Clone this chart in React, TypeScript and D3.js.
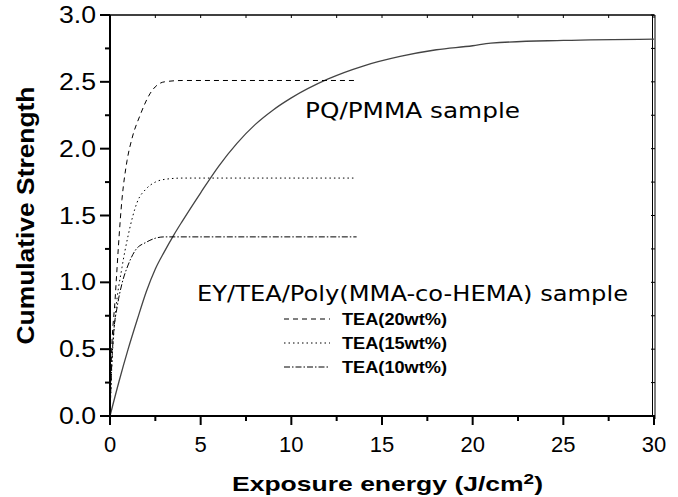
import React from 'react'
import * as d3 from 'd3'

// PQ/PMMA sample (solid)
const pqX = [0, 0.5, 1, 1.5, 2, 2.5, 3, 3.5, 4, 5, 6, 7, 8, 9, 10, 12, 14, 16, 18, 20, 21, 25, 30]
const pqY = [0, 0.26, 0.5, 0.72, 0.93, 1.1, 1.23, 1.35, 1.46, 1.67, 1.87, 2.04, 2.18, 2.29, 2.38, 2.52, 2.62, 2.69, 2.74, 2.77, 2.79, 2.81, 2.82]

// EY/TEA samples
const tea20X = [0, 0.06, 0.28, 0.66, 0.94, 1.2, 1.66, 2.2, 3, 4, 13.5]
const tea20Y = [0, 0.37, 0.87, 1.62, 1.91, 2.07, 2.25, 2.41, 2.5, 2.51, 2.51]
const tea15X = [0, 0.1, 0.3, 0.66, 1, 1.5, 2, 2.5, 3, 4, 13.5]
const tea15Y = [0, 0.37, 0.76, 1.11, 1.35, 1.6, 1.7, 1.75, 1.77, 1.78, 1.78]
const tea10X = [0, 0.1, 0.2, 0.4, 0.66, 1, 1.4, 2, 2.5, 3, 13.6]
const tea10Y = [0, 0.4, 0.62, 0.82, 0.99, 1.13, 1.24, 1.3, 1.33, 1.34, 1.34]

const legendNames = ['TEA(20wt%)', 'TEA(15wt%)', 'TEA(10wt%)']
const dashes = ['5,4', '1.5,3', '6,2,1.5,2']

const xTicks = [0, 5, 10, 15, 20, 25, 30]
const yTicks = [0, 0.5, 1.0, 1.5, 2.0, 2.5, 3.0]

const margin = { left: 110, right: 24, top: 15, bottom: 81 }
const W = 678
const H = 497

export default function App() {
  const pw = W - margin.left - margin.right
  const ph = H - margin.top - margin.bottom
  const x = d3.scaleLinear().domain([0, 30]).range([margin.left, margin.left + pw])
  const y = d3.scaleLinear().domain([0, 3]).range([margin.top + ph, margin.top])

  const mk = (xs: number[], ys: number[]) =>
    d3.line<number>().x((d, i) => x(xs[i])).y(d => y(d)).curve(d3.curveMonotoneX)(ys) || ''

  const teaSeries = [[tea20X, tea20Y], [tea15X, tea15Y], [tea10X, tea10Y]]
  const minorX = d3.range(0, 30.01, 2.5)
  const minorY = d3.range(0, 3.01, 0.25)
  const font = 'Liberation Sans, Arial, sans-serif'

  return (
    <svg width={W} height={H} style={{ position: 'absolute', left: 0, top: 0, background: '#fff' }}>
      <rect x={0} y={0} width={W} height={H} fill="#fff" />
      {/* box */}
      <line x1={x(0)} x2={x(30)} y1={y(3)} y2={y(3)} stroke="#000" strokeWidth={1.5} />
      <line x1={x(30) - 1.5} x2={x(30) - 1.5} y1={y(3)} y2={y(0)} stroke="#000" strokeWidth={1} />
      <line x1={x(30) + 1} x2={x(30) + 1} y1={y(3)} y2={y(0) + 3} stroke="#000" strokeWidth={1} />
      {minorX.map(v => (
        <line key={'tx' + v} x1={x(v)} x2={x(v)} y1={y(3)} y2={y(3) + 3} stroke="#000" />
      ))}
      {minorY.map(v => (
        <line key={'ry' + v} x1={x(30) + 1} x2={x(30) - 3} y1={y(v)} y2={y(v)} stroke="#000" />
      ))}

      {/* left axis */}
      <line x1={x(0)} x2={x(0)} y1={y(3)} y2={y(0) + 8} stroke="#000" strokeWidth={2} />
      {minorY.map(v => (
        <line key={'ly' + v} x1={x(0)} x2={x(0) - (yTicks.includes(v) ? 10 : 5)} y1={y(v)} y2={y(v)} stroke="#000" strokeWidth={2} />
      ))}
      {yTicks.map(v => (
        <text key={'yl' + v} x={x(0) - 51} y={y(v) + 8} fontFamily={font} fontSize={23}
          textLength={37} lengthAdjust="spacingAndGlyphs">
          {v.toFixed(1)}
        </text>
      ))}

      {/* bottom axis */}
      <line x1={x(0) - 10} x2={x(30) + 1} y1={y(0)} y2={y(0)} stroke="#000" strokeWidth={2} />
      {minorX.map(v => (
        <line key={'bx' + v} x1={x(v)} x2={x(v)} y1={y(0)} y2={y(0) + (xTicks.includes(v) ? 9 : 5)} stroke="#000" strokeWidth={2} />
      ))}
      {xTicks.map(v => (
        <text key={'xl' + v} x={x(v)} y={452} textAnchor="middle" fontFamily={font} fontSize={22}>
          {v}
        </text>
      ))}

      {/* axis titles */}
      <text x={232} y={491} fontFamily={font} fontSize={21} fontWeight="bold" textLength={311} lengthAdjust="spacingAndGlyphs">
        Exposure energy (J/cm<tspan fontSize={15} dy={-7}>2</tspan><tspan dy={7}>)</tspan>
      </text>
      <text transform={`translate(34,${(y(0) + y(3)) / 2}) rotate(-90)`} textAnchor="middle" fontFamily={font} fontSize={24} fontWeight="bold"
        textLength={258} lengthAdjust="spacingAndGlyphs">
        Cumulative Strength
      </text>

      {/* curves */}
      <path d={mk(pqX, pqY)} fill="none" stroke="#444" strokeWidth={1.3} />
      {teaSeries.map((s, i) => (
        <path key={'c' + i} d={mk(s[0], s[1])} fill="none" stroke="#000" strokeWidth={1} strokeDasharray={dashes[i]} />
      ))}

      {/* annotations */}
      <text x={305} y={118} fontFamily="DejaVu Sans, Verdana, sans-serif" fontSize={22} textLength={215} lengthAdjust="spacingAndGlyphs">
        PQ/PMMA sample
      </text>
      <text x={197} y={301} fontFamily="DejaVu Sans, Verdana, sans-serif" fontSize={22} textLength={431} lengthAdjust="spacingAndGlyphs">
        EY/TEA/Poly(MMA-co-HEMA) sample
      </text>

      {/* legend */}
      {legendNames.map((n, i) => (
        <g key={n}>
          <line x1={284} x2={330} y1={319 + i * 24} y2={319 + i * 24} stroke="#000" strokeWidth={1} strokeDasharray={dashes[i]} />
          <text x={342} y={325 + i * 24} fontFamily={font} fontSize={17} fontWeight="bold" textLength={105} lengthAdjust="spacingAndGlyphs">
            {n}
          </text>
        </g>
      ))}
    </svg>
  )
}
